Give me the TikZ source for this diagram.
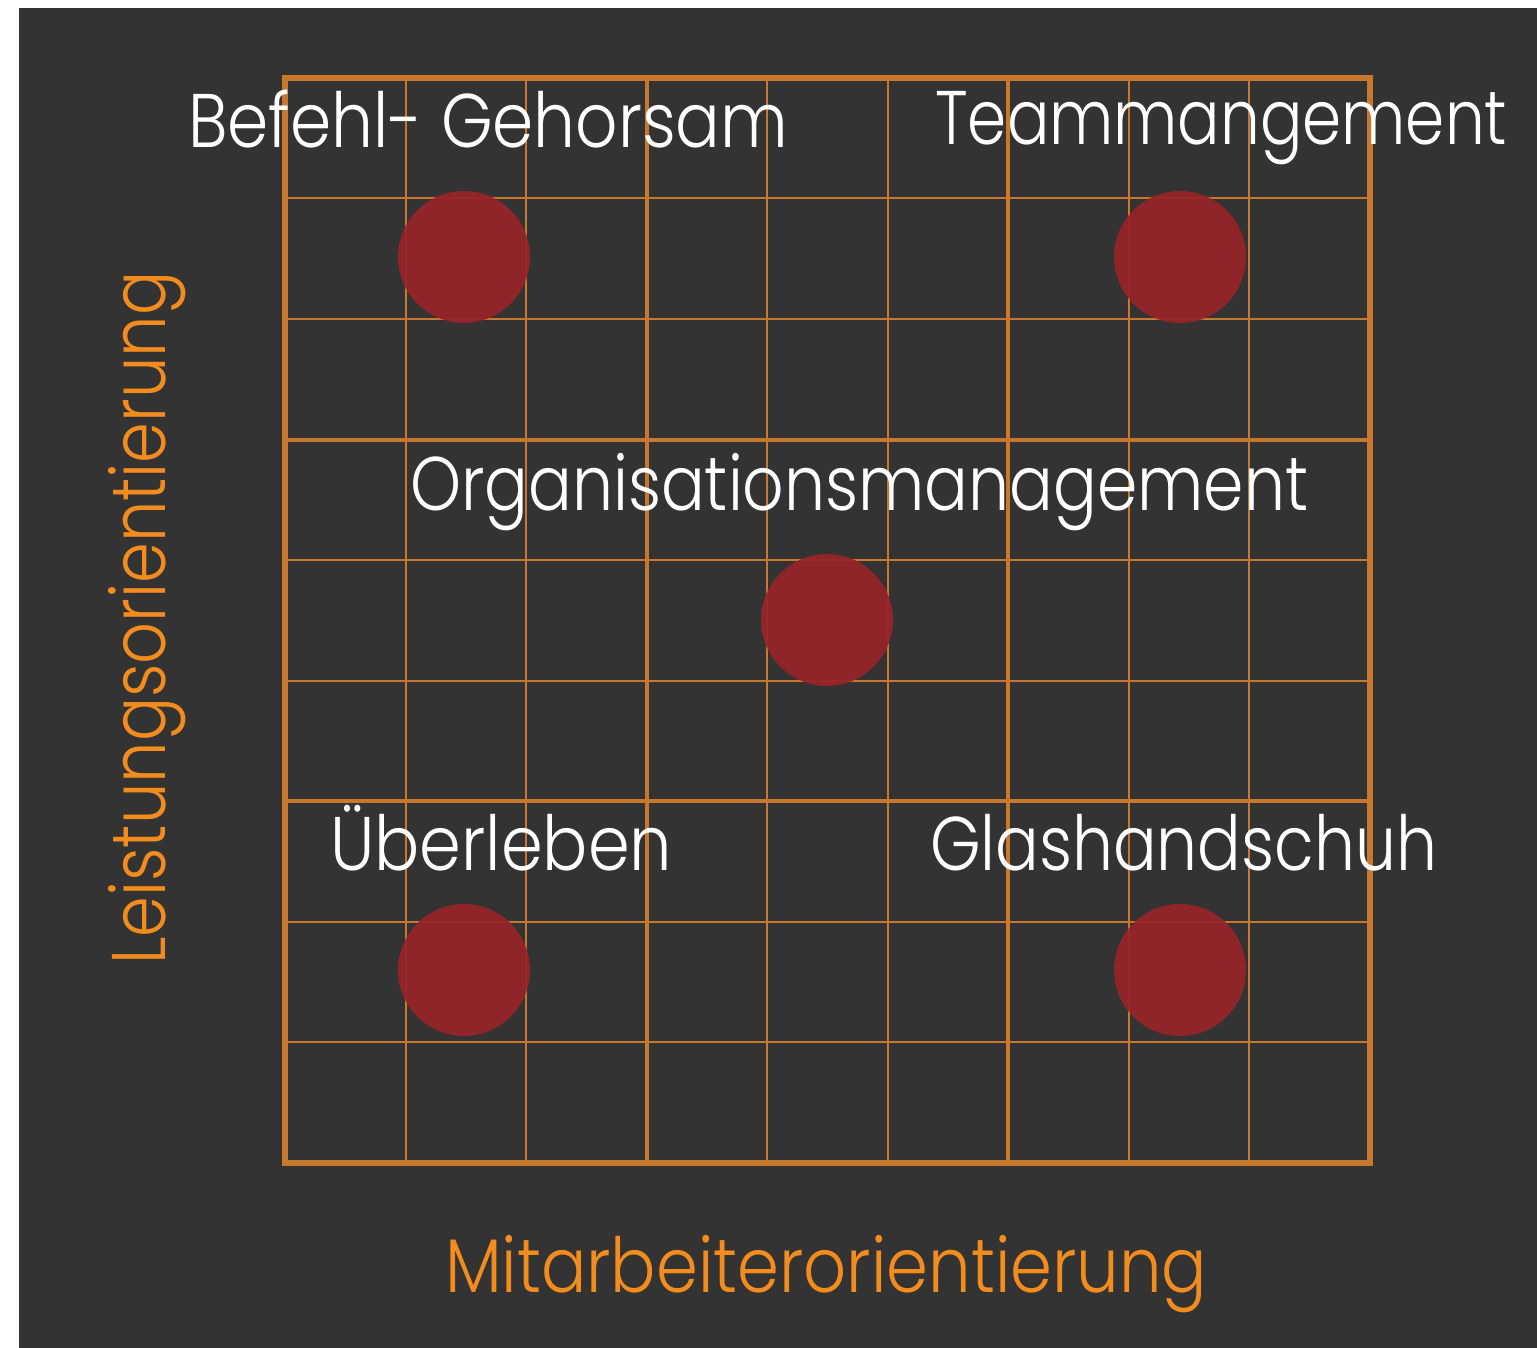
\documentclass[tikz,border=0pt]{standalone}
\usepackage{fontspec}
\usepackage{graphicx}
\setmainfont{Poppins}[UprightFont=* Light]
\definecolor{bgc}{HTML}{333333}
\definecolor{gridc}{HTML}{C8782C}
\definecolor{dotc}{HTML}{962429}
\definecolor{axisc}{HTML}{F28C1E}
\newcommand\fitw[2]{\resizebox{#1pt}{\height}{#2}}
\begin{document}
\begin{tikzpicture}[x=1pt,y=-1pt,
  gridthin/.style={draw=gridc,line width=2pt},
  gridmid/.style={draw=gridc,line width=4pt},
  gridout/.style={draw=gridc,line width=6pt},
  dot/.style={circle,fill=dotc,fill opacity=0.93,minimum size=132pt,inner sep=0pt},
  lbl/.style={text=white,inner sep=0pt,anchor=base west,font=\fontsize{76}{90}\selectfont},
  axislbl/.style={text=axisc,inner sep=0pt,anchor=base west,font=\fontsize{76}{90}\selectfont}]
\useasboundingbox (0,0) rectangle (1537,1348);
\fill[bgc] (19,8) rectangle (1537,1348);
\foreach \i in {1,2,4,5,7,8} {
  \draw[gridthin] ({285+\i*120.5},78) -- ({285+\i*120.5},1162.5);
  \draw[gridthin] (285,{78+\i*120.5}) -- (1369.5,{78+\i*120.5});
}
\foreach \i in {3,6} {
  \draw[gridmid] ({285+\i*120.5},78) -- ({285+\i*120.5},1162.5);
  \draw[gridmid] (285,{78+\i*120.5}) -- (1369.5,{78+\i*120.5});
}
\draw[gridout] (285,78) rectangle (1369.5,1162.5);
\node[dot] (c1) at (464,257) {};
\node[dot] (c2) at (1180,257) {};
\node[dot] (c3) at (827,620) {};
\node[dot] (c4) at (464,970) {};
\node[dot] (c5) at (1180,970) {};
\node[lbl] (befehl) at (188,148) {\fitw{600}{Befehl- Gehorsam}};
\node[lbl] (team) at (935,145) {\fitw{572}{Teammangement}};
\node[lbl] (orga) at (410,510) {\fitw{898}{Organisationsmanagement}};
\node[lbl] (ueber) at (330,870) {\fitw{342}{Überleben}};
\node[lbl] (glas) at (930,870) {\fitw{507}{Glashandschuh}};
\node[axislbl] (mitarb) at (445,1292) {\fitw{762}{Mitarbeiterorientierung}};
\node[axislbl,rotate=90] (leist) at (165,965) {\fitw{693}{Leistungsorientierung}};
\end{tikzpicture}
\end{document}
